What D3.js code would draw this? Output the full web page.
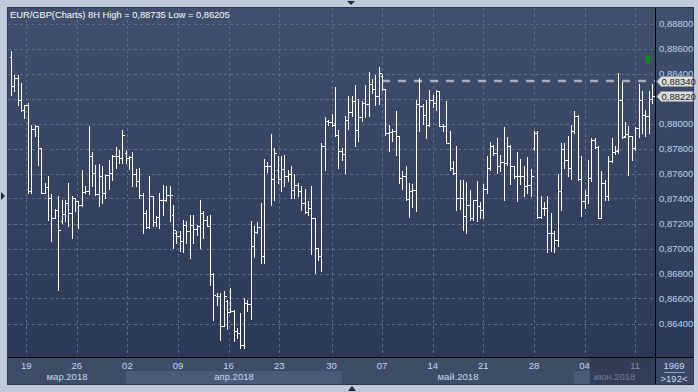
<!DOCTYPE html>
<html><head><meta charset="utf-8">
<script src="https://cdn.jsdelivr.net/npm/d3@7/dist/d3.min.js"></script>
<style>html,body{margin:0;padding:0;background:#bfcbda;}svg{display:block;}</style>
</head><body>
<svg id="c" width="698" height="392"></svg>
<script>
const title = "EUR/GBP(Charts) 8H High = 0,88735 Low = 0,86205";
const open  = [0.88531,0.88297,0.88363,0.88190,0.88110,0.88150,0.87457,0.87955,0.87977,0.87803,0.87443,0.87491,0.87403,0.87243,0.87310,0.87217,0.87278,0.87363,0.87283,0.87403,0.87377,0.87350,0.87449,0.87457,0.87742,0.87603,0.87438,0.87577,0.87443,0.87585,0.87603,0.87742,0.87737,0.87723,0.87763,0.87723,0.87731,0.87598,0.87537,0.87430,0.87283,0.87171,0.87422,0.87209,0.87251,0.87390,0.87390,0.87430,0.87270,0.87123,0.87097,0.87057,0.87190,0.87137,0.87190,0.87155,0.87177,0.87283,0.87230,0.87177,0.86795,0.86617,0.86617,0.86377,0.86577,0.86489,0.86497,0.86337,0.86323,0.86230,0.86563,0.86558,0.87022,0.87129,0.87171,0.86937,0.87657,0.87662,0.87555,0.87630,0.87555,0.87635,0.87582,0.87598,0.87470,0.87510,0.87457,0.87363,0.87289,0.87323,0.87243,0.87003,0.86942,0.87817,0.88017,0.88009,0.88003,0.87910,0.87777,0.87758,0.88025,0.88089,0.88177,0.87945,0.88051,0.88163,0.88158,0.88318,0.88275,0.88222,0.88377,0.88275,0.87923,0.87929,0.87937,0.87897,0.87563,0.87577,0.87395,0.87457,0.87465,0.88158,0.88142,0.88070,0.87990,0.88190,0.88163,0.88257,0.87982,0.87977,0.87843,0.87643,0.87603,0.87403,0.87403,0.87257,0.87350,0.87243,0.87385,0.87342,0.87310,0.87475,0.87643,0.87822,0.87763,0.87657,0.87689,0.87683,0.87822,0.87657,0.87582,0.87582,0.87582,0.87497,0.87510,0.87803,0.87923,0.87251,0.87323,0.87323,0.87123,0.87123,0.87070,0.87457,0.87795,0.87710,0.87643,0.87937,0.88057,0.87555,0.87377,0.87430,0.87563,0.87870,0.87811,0.87243,0.87523,0.87417,0.87697,0.87769,0.87790,0.88185,0.87902,0.87918,0.87897,0.87803,0.87963,0.88190,0.88070,0.88062,0.88195];
const high  = [0.88577,0.88390,0.88390,0.88323,0.88150,0.88163,0.87990,0.87990,0.87982,0.87803,0.87523,0.87582,0.87438,0.87315,0.87417,0.87390,0.87390,0.87523,0.87417,0.87403,0.87377,0.87625,0.87502,0.87977,0.87769,0.87670,0.87678,0.87657,0.87590,0.87705,0.87750,0.87811,0.87785,0.87950,0.87785,0.87742,0.87769,0.87635,0.87643,0.87443,0.87310,0.87582,0.87422,0.87262,0.87443,0.87510,0.87497,0.87497,0.87350,0.87137,0.87137,0.87225,0.87217,0.87270,0.87270,0.87190,0.87390,0.87297,0.87262,0.87270,0.86803,0.86643,0.86643,0.86657,0.86590,0.86683,0.86510,0.86363,0.86483,0.86603,0.86590,0.87217,0.87182,0.87209,0.87363,0.87715,0.87689,0.87918,0.87803,0.87737,0.87742,0.87750,0.87630,0.87662,0.87598,0.87523,0.87502,0.87475,0.87377,0.87502,0.87243,0.87003,0.87843,0.88051,0.88030,0.88078,0.88291,0.87945,0.87803,0.88062,0.88222,0.88217,0.88310,0.88195,0.88177,0.88310,0.88409,0.88355,0.88390,0.88451,0.88398,0.88275,0.87990,0.87955,0.88097,0.87897,0.87617,0.87662,0.87523,0.87518,0.88190,0.88363,0.88158,0.88185,0.88270,0.88230,0.88265,0.88257,0.87998,0.88177,0.87937,0.87697,0.87822,0.87545,0.87550,0.87529,0.87465,0.87390,0.87537,0.87369,0.87518,0.87742,0.87849,0.87830,0.87883,0.87750,0.87971,0.87891,0.87830,0.87662,0.87769,0.87715,0.87662,0.87731,0.87635,0.87937,0.87937,0.87417,0.87369,0.87417,0.87283,0.87137,0.87598,0.87843,0.87843,0.87902,0.87990,0.88097,0.88070,0.87737,0.87465,0.87710,0.87883,0.87883,0.87822,0.87617,0.87550,0.87742,0.87883,0.87817,0.88403,0.88329,0.88009,0.87977,0.87902,0.87971,0.88318,0.88257,0.88110,0.88257,0.88318];
const low   = [0.88230,0.88257,0.88150,0.88097,0.88043,0.87443,0.87443,0.87902,0.87670,0.87443,0.87443,0.87225,0.87057,0.87243,0.86670,0.87203,0.87217,0.87177,0.87083,0.87297,0.87163,0.87337,0.87443,0.87438,0.87497,0.87430,0.87342,0.87363,0.87403,0.87475,0.87550,0.87643,0.87683,0.87683,0.87683,0.87635,0.87502,0.87497,0.87403,0.87123,0.87163,0.87163,0.87177,0.87177,0.87163,0.87270,0.87377,0.87217,0.87003,0.87043,0.86977,0.86969,0.87043,0.86923,0.87043,0.87110,0.87003,0.87083,0.87177,0.86710,0.86430,0.86550,0.86270,0.86377,0.86355,0.86489,0.86257,0.86283,0.86203,0.86203,0.86497,0.86435,0.86931,0.87123,0.86883,0.86883,0.87609,0.87350,0.87385,0.87523,0.87457,0.87497,0.87537,0.87403,0.87403,0.87417,0.87310,0.87283,0.87270,0.86958,0.86803,0.86910,0.86817,0.87630,0.87990,0.87977,0.87897,0.87643,0.87710,0.87603,0.87955,0.88062,0.87822,0.87857,0.88017,0.88051,0.88062,0.88243,0.88150,0.88158,0.88270,0.87910,0.87777,0.87857,0.87750,0.87523,0.87475,0.87390,0.87251,0.87331,0.87297,0.87937,0.87998,0.87883,0.87977,0.88131,0.88110,0.87977,0.87937,0.87843,0.87630,0.87598,0.87310,0.87315,0.87150,0.87123,0.87230,0.87230,0.87217,0.87243,0.87243,0.87443,0.87630,0.87750,0.87603,0.87617,0.87385,0.87670,0.87518,0.87563,0.87377,0.87518,0.87417,0.87443,0.87417,0.87790,0.87243,0.87243,0.87270,0.86969,0.86977,0.86969,0.87022,0.87310,0.87643,0.87577,0.87555,0.87923,0.87550,0.87257,0.87323,0.87363,0.87537,0.87803,0.87243,0.87243,0.87385,0.87390,0.87689,0.87758,0.87763,0.87883,0.87891,0.87590,0.87710,0.87790,0.87891,0.87923,0.87897,0.87923,0.88163];
const close = [0.88297,0.88363,0.88190,0.88110,0.88150,0.87457,0.87955,0.87977,0.87803,0.87443,0.87491,0.87403,0.87243,0.87310,0.87150,0.87278,0.87363,0.87283,0.87403,0.87377,0.87350,0.87449,0.87457,0.87742,0.87603,0.87438,0.87577,0.87443,0.87585,0.87603,0.87742,0.87737,0.87723,0.87910,0.87723,0.87731,0.87598,0.87537,0.87430,0.87283,0.87171,0.87422,0.87209,0.87251,0.87390,0.87390,0.87430,0.87430,0.87150,0.87097,0.87057,0.87190,0.87137,0.87190,0.87155,0.87177,0.87283,0.87230,0.87177,0.86795,0.86630,0.86617,0.86377,0.86617,0.86489,0.86497,0.86337,0.86323,0.86230,0.86563,0.86558,0.87022,0.87129,0.87171,0.86937,0.87657,0.87662,0.87555,0.87763,0.87555,0.87635,0.87582,0.87598,0.87470,0.87510,0.87457,0.87363,0.87289,0.87323,0.87243,0.87003,0.86942,0.87817,0.88017,0.88009,0.87990,0.87910,0.87777,0.87758,0.88025,0.88089,0.88177,0.87945,0.88051,0.88163,0.88158,0.88318,0.88275,0.88222,0.88403,0.88275,0.87923,0.87929,0.87937,0.87897,0.87563,0.87577,0.87395,0.87457,0.87465,0.88158,0.88142,0.88070,0.87990,0.88190,0.88163,0.88257,0.87982,0.87977,0.87843,0.87643,0.87603,0.87403,0.87403,0.87257,0.87350,0.87243,0.87385,0.87342,0.87310,0.87475,0.87643,0.87822,0.87763,0.87657,0.87689,0.87683,0.87822,0.87657,0.87582,0.87582,0.87582,0.87497,0.87510,0.87582,0.87923,0.87251,0.87323,0.87323,0.87123,0.87123,0.87070,0.87457,0.87795,0.87710,0.87643,0.87937,0.88057,0.87555,0.87377,0.87430,0.87563,0.87870,0.87811,0.87243,0.87523,0.87417,0.87697,0.87769,0.87777,0.88185,0.87891,0.87918,0.87897,0.87803,0.87963,0.88190,0.88070,0.88062,0.88195,0.88217];
const priceTicks = [0.864,0.866,0.868,0.870,0.872,0.874,0.876,0.878,0.880,0.882,0.884,0.886,0.888];
const dayLabels = ["19","26","02","09","16","23","30","07","14","21","28","04","11"];
const dayIndex  = [4.5,19.5,34.5,49.5,64.5,79.5,95,110,125,140,155,170,185];
const monthLabels = ["мар.2018","апр.2018","май.2018","июн.2018"];
const monthStart  = [-1,34.1,98.1,166.9];
const highLine = 0.8834, lastPrice = 0.8822, highLineStart = 110;
const barCount = "1969", visibleCount = ">192<";

const svg = d3.select("#c");
const L=8, R=655, T=8, B=357, AX=693, BB=384;
const x = d3.scaleLinear().domain([0, open.length-1]).range([11, 652]);
const y = d3.scaleLinear().domain([0.864, 0.888]).range([323.5, 23.5]);
const fmt = v => d3.format(".5f")(v).replace(".", ",");
const FONT = "Liberation Sans, Arial, sans-serif";

const defs = svg.append("defs");
const g1 = defs.append("linearGradient").attr("id","bg").attr("x1",0).attr("x2",0).attr("y1",0).attr("y2",1);
g1.append("stop").attr("offset",0).attr("stop-color","#404f6d");
g1.append("stop").attr("offset",1).attr("stop-color","#2b3856");
// clip for the axis label partly hidden behind the high-line box
defs.append("clipPath").attr("id","axclip").append("rect").attr("x",R+1).attr("y",T).attr("width",AX-R).attr("height",Math.round(y(highLine))-5-T+0.5);

// frame
svg.append("rect").attr("x",0).attr("y",0).attr("width",698).attr("height",392).attr("fill","#bfcbda");
svg.append("rect").attr("x",L-1).attr("y",T-1).attr("width",AX-L+2).attr("height",BB-T+2).attr("fill","#2a3550");
svg.append("rect").attr("x",L).attr("y",T).attr("width",R-L).attr("height",B-T).attr("fill","url(#bg)");
svg.append("rect").attr("x",R+1).attr("y",T).attr("width",AX-R-1).attr("height",B-T).attr("fill","url(#bg)");
// bottom axis background
svg.append("rect").attr("x",L).attr("y",B+1).attr("width",R-L).attr("height",BB-B-1).attr("fill","#3e4c68");
svg.append("rect").attr("x",R+1).attr("y",B+1).attr("width",AX-R-1).attr("height",BB-B-1).attr("fill","#3a4865");
// month bands (alternate)
monthStart.forEach((s,i)=>{
  const x0 = Math.max(L, x(s)), x1 = i<monthStart.length-1 ? x(monthStart[i+1]) : R;
  if(i%2===1) svg.append("rect").attr("x",x0).attr("y",371).attr("width",x1-x0).attr("height",BB-371).attr("fill","#4b5a76");
});
// dark overlay on last part
svg.append("rect").attr("x",590).attr("y",B+1).attr("width",R-590).attr("height",BB-B-1).attr("fill","#2f3b57").attr("opacity",0.92);

// grid
const grid = svg.append("g").attr("stroke","#5d6c8a").attr("stroke-dasharray","3,3").attr("stroke-width",1);
priceTicks.forEach(p=>grid.append("line").attr("x1",L).attr("x2",R).attr("y1",Math.round(y(p))+0.5).attr("y2",Math.round(y(p))+0.5));
dayIndex.forEach(i=>grid.append("line").attr("x1",Math.round(x(i))+0.5).attr("x2",Math.round(x(i))+0.5).attr("y1",T).attr("y2",B));

// axis lines
svg.append("line").attr("x1",R+0.5).attr("x2",R+0.5).attr("y1",T).attr("y2",BB).attr("stroke","#000");
svg.append("line").attr("x1",L).attr("x2",AX).attr("y1",B+0.5).attr("y2",B+0.5).attr("stroke","#000");

// high dashed line
svg.append("line").attr("x1",x(highLineStart)).attr("x2",R).attr("y1",y(highLine)).attr("y2",y(highLine))
  .attr("stroke","#a9b0bd").attr("stroke-width",2.5).attr("stroke-dasharray","8,8");

// OHLC bars
const bars = svg.append("g").attr("stroke","#fff").attr("stroke-width",1).attr("shape-rendering","crispEdges");
open.forEach((o,i)=>{
  const cx = Math.round(x(i))+0.5;
  bars.append("line").attr("x1",cx).attr("x2",cx).attr("y1",Math.round(y(high[i]))).attr("y2",Math.round(y(low[i]))+1);
  const yo = Math.round(y(o))+0.5, yc = Math.round(y(close[i]))+0.5;
  bars.append("line").attr("x1",cx-2).attr("x2",cx).attr("y1",yo).attr("y2",yo);
  bars.append("line").attr("x1",cx).attr("x2",cx+2).attr("y1",yc).attr("y2",yc);
});

// green arrow
svg.append("path").attr("d","M648,54.5 L652.5,59.5 L649.5,59.5 L649.5,64 L646.5,64 L646.5,59.5 L643.5,59.5 Z").attr("fill","#17871a");

// title
svg.append("text").attr("x",10).attr("y",18).attr("fill","#ffffff").attr("font-family",FONT).attr("font-size",9.3).text(title);

// price axis (labels hidden behind the price boxes are skipped / clipped, as in the picture)
const ax = svg.append("g").attr("font-family",FONT).attr("font-size",9.5).attr("fill","#b8d2f0");
priceTicks.forEach(p=>{
  const yy = y(p);
  const dLast = Math.abs(yy - y(lastPrice)), dHigh = Math.abs(yy - y(highLine));
  if(dLast < 6) return;
  const t = ax.append("text").attr("x",659).attr("y",yy+3.5).text(fmt(p));
  if(dHigh < 10) t.attr("clip-path","url(#axclip)");
});

// price labels
[highLine,lastPrice].forEach(p=>{
  const yy = Math.round(y(p))+0.5;
  svg.append("path").attr("d",`M657,${yy} L661,${yy-5} L693,${yy-5} L693,${yy+5} L661,${yy+5} Z`).attr("fill","#dcdfd6").attr("stroke","#8d96a3");
  svg.append("text").attr("x",661.5).attr("y",yy+3.5).attr("fill","#1a2230").attr("font-family",FONT).attr("font-size",9.5).text(fmt(p));
});

// time axis
const tx = svg.append("g").attr("font-family",FONT).attr("font-size",9.5).attr("text-anchor","middle");
dayLabels.forEach((d,k)=>tx.append("text").attr("x",x(dayIndex[k])).attr("y",369).attr("fill", x(dayIndex[k])>590?"#7f8ea8":"#c5d8ef").text(d));
monthLabels.forEach((m,i)=>{
  const x0 = Math.max(L, x(monthStart[i])), x1 = i<monthLabels.length-1 ? x(monthStart[i+1]) : R;
  tx.append("text").attr("x",(x0+x1)/2).attr("y",380).attr("fill", i===3?"#6f7e98":"#c5d8ef").text(m);
});
// bottom-right box
tx.append("text").attr("x",674).attr("y",369).attr("fill","#c5d8ef").text(barCount);
svg.append("line").attr("x1",664).attr("x2",685).attr("y1",372.5).attr("y2",372.5).attr("stroke","#8ea0bb");
tx.append("text").attr("x",674).attr("y",382).attr("fill","#c5d8ef").text(visibleCount);

// triangles on frame
svg.append("path").attr("d","M347,1 L355,1 L351,5 Z").attr("fill","#1e2638");
svg.append("path").attr("d","M348,391 L356,391 L352,386 Z").attr("fill","#1e2638");
svg.append("path").attr("d","M1,192 L1,200 L5,196 Z").attr("fill","#1e2638");
</script>
</body></html>
